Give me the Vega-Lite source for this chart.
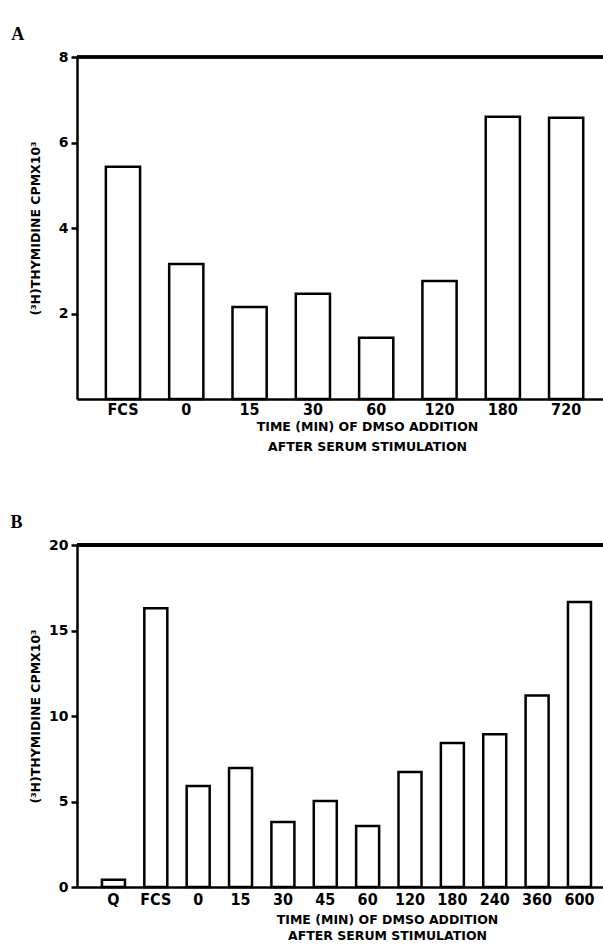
{
  "$schema": "https://vega.github.io/schema/vega-lite/v6.json",
  "background": "white",
  "padding": {"left": 10, "top": 26, "right": 0, "bottom": 0},
  "spacing": 61,
  "config": {
    "view": {"stroke": null},
    "axis": {
      "grid": false,
      "domainColor": "black",
      "domainWidth": 2.5,
      "tickColor": "black",
      "tickWidth": 2.5,
      "labelColor": "black",
      "titleColor": "black"
    },
    "axisY": {
      "tickSize": 6,
      "labelFont": "DejaVu Sans",
      "labelFontWeight": "bold",
      "labelFontSize": 14,
      "labelPadding": 3,
      "titleFont": "DejaVu Sans",
      "titleFontWeight": "bold",
      "titleFontSize": 12.5,
      "titlePadding": 16
    },
    "axisX": {
      "ticks": false,
      "labelAngle": 0,
      "labelFont": "DejaVu Sans Condensed, Roboto, sans-serif",
      "labelFontWeight": "bold",
      "labelFontSize": 16,
      "labelPadding": 2,
      "titleFont": "DejaVu Sans",
      "titleFontWeight": "bold",
      "titleFontSize": 12.5,
      "titlePadding": 3,
      "titleLineHeight": 20
    },
    "title": {
      "anchor": "start",
      "frame": "bounds",
      "font": "Liberation Serif",
      "fontSize": 18,
      "fontWeight": "bold",
      "color": "black",
      "offset": 6
    }
  },
  "vconcat": [
    {
      "title": {"text": "A", "dx": -18},
      "width": 528,
      "height": 342,
      "data": {"values": [
        {"time": "FCS", "cpm": 5.43},
        {"time": "0", "cpm": 3.16},
        {"time": "15", "cpm": 2.15},
        {"time": "30", "cpm": 2.46},
        {"time": "60", "cpm": 1.43},
        {"time": "120", "cpm": 2.76},
        {"time": "180", "cpm": 6.6},
        {"time": "720", "cpm": 6.58}
      ]},
      "layer": [
        {
          "mark": {"type": "bar", "fill": "white", "stroke": "black", "strokeWidth": 2.5},
          "encoding": {
            "x": {
              "field": "time", "type": "nominal", "sort": null,
              "scale": {"paddingInner": 0.46, "paddingOuter": 0.4, "align": 0.57},
              "axis": {"title": ["TIME (MIN) OF DMSO ADDITION", "AFTER SERUM STIMULATION"], "titleX": 290, "titleAlign": "center"}
            },
            "y": {
              "field": "cpm", "type": "quantitative",
              "scale": {"domain": [0, 8]},
              "axis": {"values": [2, 4, 6, 8], "title": "(³H)THYMIDINE CPMX10³"}
            }
          }
        },
        {
          "mark": {"type": "rule", "color": "black", "strokeWidth": 2.5},
          "encoding": {"y": {"datum": 8}}
        }
      ]
    },
    {
      "title": {"text": "B", "dx": -19},
      "width": 528,
      "height": 342,
      "data": {"values": [
        {"time": "Q", "cpm": 0.42},
        {"time": "FCS", "cpm": 16.3},
        {"time": "0", "cpm": 5.9},
        {"time": "15", "cpm": 6.96},
        {"time": "30", "cpm": 3.8},
        {"time": "45", "cpm": 5.03},
        {"time": "60", "cpm": 3.57},
        {"time": "120", "cpm": 6.73},
        {"time": "180", "cpm": 8.42},
        {"time": "240", "cpm": 8.94},
        {"time": "360", "cpm": 11.2},
        {"time": "600", "cpm": 16.67}
      ]},
      "layer": [
        {
          "mark": {"type": "bar", "fill": "white", "stroke": "black", "strokeWidth": 2.5},
          "encoding": {
            "x": {
              "field": "time", "type": "nominal", "sort": null,
              "scale": {"paddingInner": 0.457, "paddingOuter": 0.46, "align": 0.64},
              "axis": {"title": ["TIME (MIN) OF DMSO ADDITION", "AFTER SERUM STIMULATION"], "titleX": 310, "titleAlign": "center", "titleLineHeight": 16, "labelPadding": 4, "titlePadding": 6}
            },
            "y": {
              "field": "cpm", "type": "quantitative",
              "scale": {"domain": [0, 20]},
              "axis": {"values": [0, 5, 10, 15, 20], "title": "(³H)THYMIDINE CPMX10³", "titlePadding": 6}
            }
          }
        },
        {
          "mark": {"type": "rule", "color": "black", "strokeWidth": 2.5},
          "encoding": {"y": {"datum": 20}}
        }
      ]
    }
  ]
}
